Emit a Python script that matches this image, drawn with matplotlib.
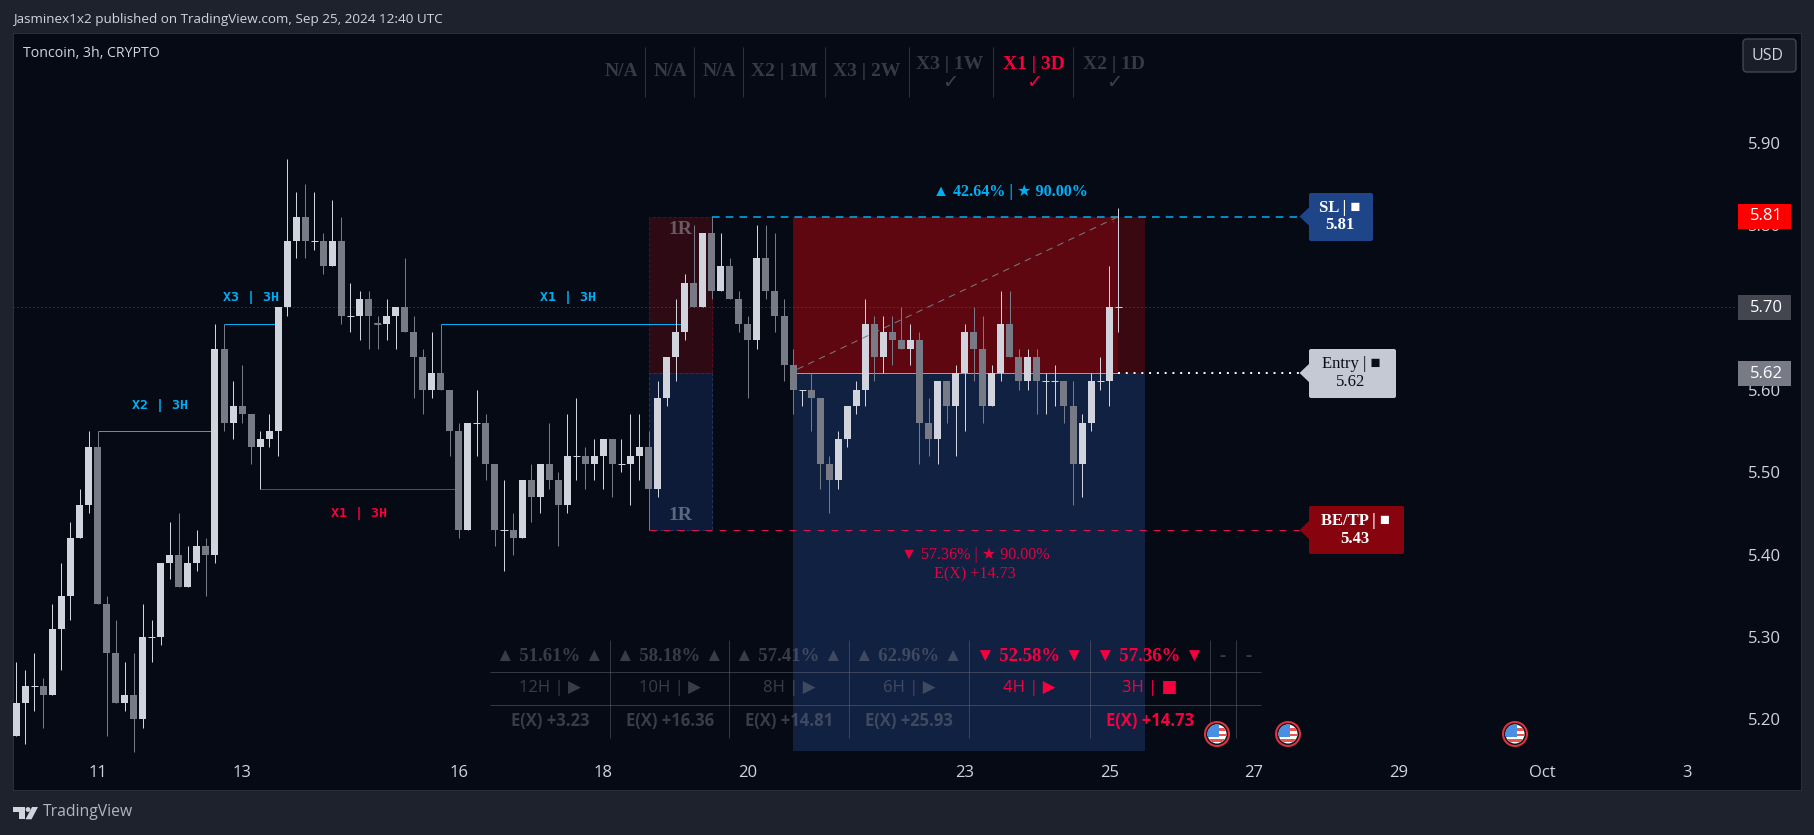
import matplotlib
matplotlib.use("Agg")
import matplotlib.pyplot as plt
from matplotlib.patches import Rectangle, Circle, Polygon, FancyBboxPatch

# 3h candles, 2 decimals as on the chart
opens = [5.18, 5.22, 5.24, 5.24, 5.23, 5.31, 5.35, 5.42, 5.46, 5.53,
         5.34, 5.28, 5.22, 5.23, 5.20, 5.30, 5.30, 5.39, 5.40, 5.36,
         5.39, 5.41, 5.40, 5.65, 5.56, 5.58, 5.57, 5.53, 5.54, 5.55,
         5.70, 5.78, 5.81, 5.78, 5.78, 5.75, 5.78, 5.69, 5.69, 5.71,
         5.681, 5.68, 5.69, 5.70, 5.67, 5.64, 5.60, 5.62, 5.60, 5.55,
         5.43, 5.56, 5.56, 5.51, 5.43, 5.43, 5.42, 5.49, 5.47, 5.51,
         5.49, 5.46, 5.52, 5.52, 5.51, 5.52, 5.54, 5.51, 5.51, 5.52,
         5.53, 5.48, 5.59, 5.64, 5.67, 5.73, 5.70, 5.79, 5.72, 5.75,
         5.71, 5.68, 5.66, 5.76, 5.72, 5.69, 5.63, 5.60, 5.60, 5.59,
         5.51, 5.49, 5.54, 5.58, 5.60, 5.68, 5.64, 5.67, 5.66, 5.65,
         5.66, 5.56, 5.54, 5.61, 5.58, 5.62, 5.67, 5.65, 5.58, 5.62,
         5.68, 5.64, 5.61, 5.64, 5.61, 5.61, 5.61, 5.58, 5.51, 5.56,
         5.61, 5.61, 5.70]
highs = [5.27, 5.26, 5.28, 5.25, 5.34, 5.39, 5.44, 5.48, 5.55, 5.55,
         5.35, 5.32, 5.27, 5.28, 5.34, 5.32, 5.39, 5.44, 5.45, 5.41,
         5.43, 5.42, 5.68, 5.68, 5.61, 5.63, 5.57, 5.55, 5.57, 5.70,
         5.88, 5.84, 5.85, 5.84, 5.79, 5.83, 5.81, 5.73, 5.72, 5.72,
         5.69, 5.71, 5.70, 5.76, 5.69, 5.65, 5.67, 5.68, 5.60, 5.56,
         5.56, 5.60, 5.57, 5.51, 5.49, 5.45, 5.49, 5.51, 5.51, 5.56,
         5.50, 5.57, 5.59, 5.53, 5.54, 5.54, 5.54, 5.54, 5.57, 5.57,
         5.55, 5.61, 5.64, 5.71, 5.74, 5.80, 5.79, 5.81, 5.79, 5.76,
         5.72, 5.69, 5.80, 5.80, 5.79, 5.71, 5.65, 5.60, 5.62, 5.59,
         5.52, 5.55, 5.58, 5.61, 5.71, 5.69, 5.69, 5.69, 5.70, 5.68,
         5.67, 5.59, 5.61, 5.61, 5.63, 5.68, 5.70, 5.69, 5.63, 5.72,
         5.72, 5.65, 5.65, 5.65, 5.62, 5.63, 5.61, 5.61, 5.57, 5.62,
         5.64, 5.75, 5.82]
lows = [5.18, 5.17, 5.21, 5.19, 5.23, 5.26, 5.32, 5.42, 5.45, 5.34,
        5.18, 5.22, 5.21, 5.16, 5.19, 5.27, 5.29, 5.37, 5.36, 5.36,
        5.38, 5.35, 5.39, 5.55, 5.54, 5.56, 5.51, 5.48, 5.53, 5.52,
        5.69, 5.76, 5.76, 5.77, 5.74, 5.75, 5.68, 5.67, 5.66, 5.65,
        5.65, 5.66, 5.65, 5.67, 5.59, 5.57, 5.59, 5.60, 5.52, 5.42,
        5.43, 5.52, 5.49, 5.41, 5.38, 5.40, 5.42, 5.44, 5.45, 5.48,
        5.41, 5.45, 5.49, 5.48, 5.49, 5.48, 5.47, 5.50, 5.46, 5.49,
        5.43, 5.47, 5.58, 5.61, 5.66, 5.70, 5.70, 5.71, 5.72, 5.71,
        5.67, 5.59, 5.65, 5.71, 5.67, 5.61, 5.57, 5.58, 5.55, 5.48,
        5.45, 5.48, 5.53, 5.57, 5.58, 5.61, 5.62, 5.63, 5.65, 5.63,
        5.51, 5.52, 5.51, 5.56, 5.52, 5.55, 5.61, 5.56, 5.58, 5.61,
        5.64, 5.60, 5.60, 5.57, 5.57, 5.58, 5.56, 5.46, 5.47, 5.55,
        5.60, 5.58, 5.67]
closes = [5.22, 5.24, 5.24, 5.23, 5.31, 5.35, 5.42, 5.46, 5.53, 5.34,
          5.28, 5.22, 5.23, 5.20, 5.30, 5.30, 5.39, 5.40, 5.36, 5.39,
          5.41, 5.40, 5.65, 5.56, 5.58, 5.57, 5.53, 5.54, 5.55, 5.70,
          5.78, 5.81, 5.78, 5.78, 5.75, 5.78, 5.69, 5.69, 5.71, 5.69,
          5.68, 5.69, 5.70, 5.67, 5.64, 5.60, 5.62, 5.60, 5.55, 5.43,
          5.56, 5.56, 5.51, 5.43, 5.43, 5.42, 5.49, 5.47, 5.51, 5.49,
          5.46, 5.52, 5.52, 5.51, 5.52, 5.54, 5.51, 5.51, 5.52, 5.53,
          5.48, 5.59, 5.64, 5.67, 5.73, 5.70, 5.79, 5.72, 5.75, 5.71,
          5.68, 5.66, 5.76, 5.72, 5.69, 5.63, 5.60, 5.60, 5.59, 5.51,
          5.49, 5.54, 5.58, 5.60, 5.68, 5.64, 5.67, 5.66, 5.65, 5.66,
          5.56, 5.54, 5.61, 5.58, 5.62, 5.67, 5.65, 5.58, 5.62, 5.68,
          5.64, 5.61, 5.64, 5.61, 5.61, 5.61, 5.58, 5.51, 5.56, 5.61,
          5.61, 5.70, 5.70]

date_ticks = [9, 25, 49, 65, 81, 105, 121, 137, 153, 169, 185]
date_labels = ["11", "13", "16", "18", "20", "23", "25", "27", "29", "Oct", "3"]
price_ticks = [5.20, 5.30, 5.40, 5.50, 5.60, 5.70, 5.80, 5.90]

sl, entry, tp, last = 5.81, 5.62, 5.43, 5.70

htf_labels = ["N/A", "N/A", "N/A", "X2 | 1M", "X3 | 2W", "X3 | 1W", "X1 | 3D", "X2 | 1D"]
stat_row = ["▲ 51.61% ▲", "▲ 58.18% ▲", "▲ 57.41% ▲", "▲ 62.96% ▲", "▼ 52.58% ▼", "▼ 57.36% ▼", "-", "-"]
tf_row = ["12H | ▶", "10H | ▶", "8H | ▶", "6H | ▶", "4H | ▶", "3H | ■", "", ""]
ev_row = ["E(X) +3.23", "E(X) +16.36", "E(X) +14.81", "E(X) +25.93", "", "E(X) +14.73", "", ""]

BG = "#1E222D"
PANE = "#060A15"
UP = "#D1D4DC"
DOWN = "#787B86"
BLUE = "#00B0F5"
RED = "#F7003F"
GREY_TXT = "#363A45"
SANS = ["Open Sans", "DejaVu Sans"]
SERIF = ["Liberation Serif", "DejaVu Sans"]
MONO = ["DejaVu Sans Mono"]
PX = 0.72  # one pixel, in points
W, H = 1815, 835

fig = plt.figure(figsize=(W / 100, H / 100), dpi=100, facecolor=BG)

# chart pane, 13..1801 x 33..790 px
ax = fig.add_axes([13 / W, 1 - 790 / H, (1801 - 13) / W, (790 - 33) / H], facecolor=PANE)
ax.set_xlim(-0.365, 197.6)
ax.set_ylim(5.1142, 6.0329)
for s in ax.spines.values():
    s.set_color("#2A2E39")
ax.set_xticks(date_ticks, date_labels)
ax.set_yticks(price_ticks, [f"{p:.2f}" for p in price_ticks])
ax.tick_params(axis="x", length=0, pad=-18, labelsize=12, labelcolor=UP)
ax.tick_params(axis="y", length=0, pad=-38, labelsize=12, labelcolor=UP,
               left=False, labelleft=False, right=False, labelright=True)
for t in ax.get_xticklabels() + ax.get_yticklabels():
    t.set_family(SANS)

# position boxes
ax.add_patch(Rectangle((70, entry), 7, sl - entry, fc="#2E0A15", ec="#5A0A1C", lw=PX, ls="--", zorder=1))
ax.add_patch(Rectangle((70, tp), 7, entry - tp, fc="#0D1B38", ec="#1A3560", lw=PX, ls="--", zorder=1))
ax.add_patch(Rectangle((86, entry), 36, sl - entry, fc="#5E0710", lw=0, zorder=1))
ax.add_patch(Rectangle((122, entry), 3, sl - entry, fc="#3A0810", lw=0, zorder=1))
ax.add_patch(Rectangle((86, 5.162), 39, entry - 5.162, fc="#112142", lw=0, zorder=1))


def level(price, x0, x1, color, lw=PX, ls="solid"):
    # snapped so thin lines stay crisp between pixel rows
    ax.hlines(price, x0, x1, color=color, lw=lw, ls=ls, zorder=1.5).set_snap(True)


level(last, -0.365, 190.5, "#50535E", ls=(0, (1, 3)))
level(sl, 77, 142, BLUE, lw=1.1, ls=(0, (5, 4)))
level(tp, 70, 142, "#E0104F", ls=(0, (7, 7)))
level(entry, 86, 122, "#9A9DA6")
level(entry, 122, 142, "#FFFFFF", lw=1.4, ls=(0, (1, 3)))

# structure levels
level(5.55, 9, 22, BLUE)
level(5.68, 23, 29, BLUE)
level(5.68, 47, 74, BLUE)
level(5.48, 27, 49, RED)

# candles
idx = list(range(len(opens)))
candle_col = [UP if c >= o else DOWN for o, c in zip(opens, closes)]
ax.vlines(idx, lows, highs, colors=candle_col, lw=PX, zorder=3)
ax.bar(idx, [abs(c - o) for o, c in zip(opens, closes)], bottom=[min(o, c) for o, c in zip(opens, closes)],
       width=0.775, color=candle_col, lw=0, zorder=3)
doji = [i for i in idx if abs(opens[i] - closes[i]) < 0.002]
ax.hlines([closes[i] for i in doji], [i - 0.39 for i in doji], [i + 0.39 for i in doji],
          colors=[candle_col[i] for i in doji], lw=PX, zorder=3)

ax.annotate("", xy=(122, sl), xytext=(86.5, entry + 0.005),
            arrowprops=dict(arrowstyle="->", color=DOWN, lw=PX, ls=(0, (6, 6)), shrinkA=0, shrinkB=0), zorder=3.5)

# everything fixed to the screen goes on a pixel overlay
ov = fig.add_axes([0, 0, 1, 1], facecolor="none")
ov.set_xlim(0, W)
ov.set_ylim(H, 0)
ov.axis("off")


def txt(x, y, s, color=UP, size=10, family=SANS, weight="normal", ha="center", alpha=1.0):
    ov.text(x, y, s, color=color, fontsize=size, family=family, weight=weight,
            ha=ha, va="center", alpha=alpha, zorder=10)


txt(13, 20, "Jasminex1x2 published on TradingView.com, Sep 25, 2024 12:40 UTC", size=9.7, ha="left")
txt(23, 53.5, "Toncoin, 3h, CRYPTO", size=10.2, ha="left")
txt(42.5, 812.5, "TradingView", size=11.3, color="#B2B5BE", ha="left")

# logo
ov.add_patch(Polygon([(13.3, 807), (25, 807), (25, 819.3), (19, 819.3), (19, 812), (13.3, 812)], fc=UP, lw=0))
ov.add_patch(Circle((28, 809.5), 2.4, fc=UP, lw=0))
ov.add_patch(Polygon([(32, 807), (38, 807), (31.5, 819.3), (25.5, 819.3)], fc=UP, lw=0))

# USD button
ov.add_patch(FancyBboxPatch((1745, 41), 49, 29, boxstyle="round,pad=2,rounding_size=4",
                            fc="#1A1E29", ec="#434651", lw=1))
txt(1768, 55.5, "USD", size=11.5)

# timeframe strip on top
strip_x = [621.5, 670.5, 719.6, 784, 866.7, 950, 1034, 1114]
strip_sep = [645.2, 694.3, 743.3, 825.5, 909.4, 993.2, 1073.5]
ov.vlines(strip_sep, 46.7, 96.7, color="#2E323D", lw=PX)
for n, (x, s) in enumerate(zip(strip_x, htf_labels)):
    col = RED if n == 6 else GREY_TXT
    if n >= 5:
        txt(x, 64.5, s, color=col, size=14, family=SERIF, weight="bold")
        txt(x, 82, "✓", color=col if n == 6 else "#3E424D", size=14, family=["DejaVu Sans"])
    else:
        txt(x, 72, s, color=col, size=14, family=SERIF, weight="bold")

# level captions
txt(160, 406, "X2 | 3H", color=BLUE, size=9.5, family=MONO, weight="bold")
txt(251, 298, "X3 | 3H", color=BLUE, size=9.5, family=MONO, weight="bold")
txt(568, 298, "X1 | 3H", color=BLUE, size=9.5, family=MONO, weight="bold")
txt(359, 513, "X1 | 3H", color=RED, size=9.5, family=MONO, weight="bold")
txt(680, 230, "1R", color="#6A5A62", size=14, family=SERIF, weight="bold")
txt(680, 515, "1R", color="#5C6880", size=14, family=SERIF, weight="bold")
txt(1010.5, 192, "▲ 42.64% | ★ 90.00%", color=BLUE, size=11.6, family=SERIF, weight="bold")
txt(975, 555, "▼ 57.36% | ★ 90.00%", color=RED, size=11.6, family=SERIF, alpha=0.9)
txt(975, 574, "E(X) +14.73", color=RED, size=11.6, family=SERIF, alpha=0.9)

# stats table
col_x = [550, 670, 789, 909, 1029.5, 1150, 1223, 1249]
col_sep = [609.6, 729.5, 849.4, 969.3, 1089.7, 1209.6, 1235.6]
ov.vlines(col_sep, 640, 737.7, color="#787B86", lw=PX, alpha=0.4)
ov.hlines([672.3, 705.3], 490, 1260.6, color="#787B86", lw=PX, alpha=0.4)
for n, x in enumerate(col_x):
    col = RED if n in (4, 5) else "#787B86"
    a = 1.0 if n in (4, 5) else 0.45
    txt(x, 656.5, stat_row[n], color=col, size=13.5, family=SERIF, weight="bold", alpha=a)
    txt(x, 688, tf_row[n], color=col, size=12, family=SANS, alpha=a)
    txt(x, 721, ev_row[n], color=col, size=12, family=SANS, weight="bold", alpha=a)


# economic event markers
def flag(x, y):
    ov.add_patch(Circle((x, y), 13, fc="#E0333F", lw=0, zorder=5))
    ov.add_patch(Circle((x, y), 11, fc="#131722", lw=0, zorder=5))
    face = Circle((x, y), 9.5, fc="#FFFFFF", lw=0, zorder=6)
    ov.add_patch(face)
    for k in range(3):
        st = Rectangle((x - 10, y - 6 + k * 5.5), 20, 2.6, fc="#EF5350", lw=0, zorder=7)
        ov.add_patch(st)
        st.set_clip_path(face)
    can = Rectangle((x - 10, y - 10), 12, 13, fc="#4A90E2", lw=0, zorder=8)
    ov.add_patch(can)
    can.set_clip_path(face)


for x in (1217, 1288, 1515):
    flag(x, 734)


# price tags with a pointer to the left
def tag(x0, x1, y0, y1, tip_y, fc):
    ov.add_patch(FancyBboxPatch((x0 + 1, y0 + 1), x1 - x0 - 2, y1 - y0 - 2,
                                boxstyle="round,pad=1,rounding_size=2", fc=fc, lw=0, zorder=4))
    ov.add_patch(Polygon([(x0 + 1, tip_y - 10), (1299.5, tip_y), (x0 + 1, tip_y + 10)], fc=fc, lw=0, zorder=4))


tag(1309, 1373, 193, 241, 216.5, "#1E4587")
txt(1340, 207.5, "SL | ■", color="#FFFFFF", size=12, family=SERIF, weight="bold")
txt(1340, 225, f"{sl:.2f}", color="#FFFFFF", size=12, family=SERIF, weight="bold")
tag(1309, 1396, 349, 398, 373, "#C5C9D3")
txt(1351, 364, "Entry | ■", color="#0A0D18", size=12, family=SERIF)
txt(1351, 382, f"{entry:.2f}", color="#0A0D18", size=12, family=SERIF)
tag(1309, 1404, 506, 554, 530, "#87040E")
txt(1355, 521, "BE/TP | ■", color="#FFFFFF", size=12, family=SERIF, weight="bold")
txt(1355, 539, f"{tp:.2f}", color="#FFFFFF", size=12, family=SERIF, weight="bold")

# axis price labels
for (y0, y1, fc, s) in [(204, 229, "#FF0000", "5.81"), (295, 320, "#434651", "5.70"), (361, 386, "#787B86", "5.62")]:
    ov.add_patch(Rectangle((1738, y0), 53, y1 - y0, fc=fc, lw=0, zorder=4))
    txt(1766, (y0 + y1) / 2, s, color="#FFFFFF", size=12)

fig.savefig("out.png", dpi=100, facecolor=BG)
